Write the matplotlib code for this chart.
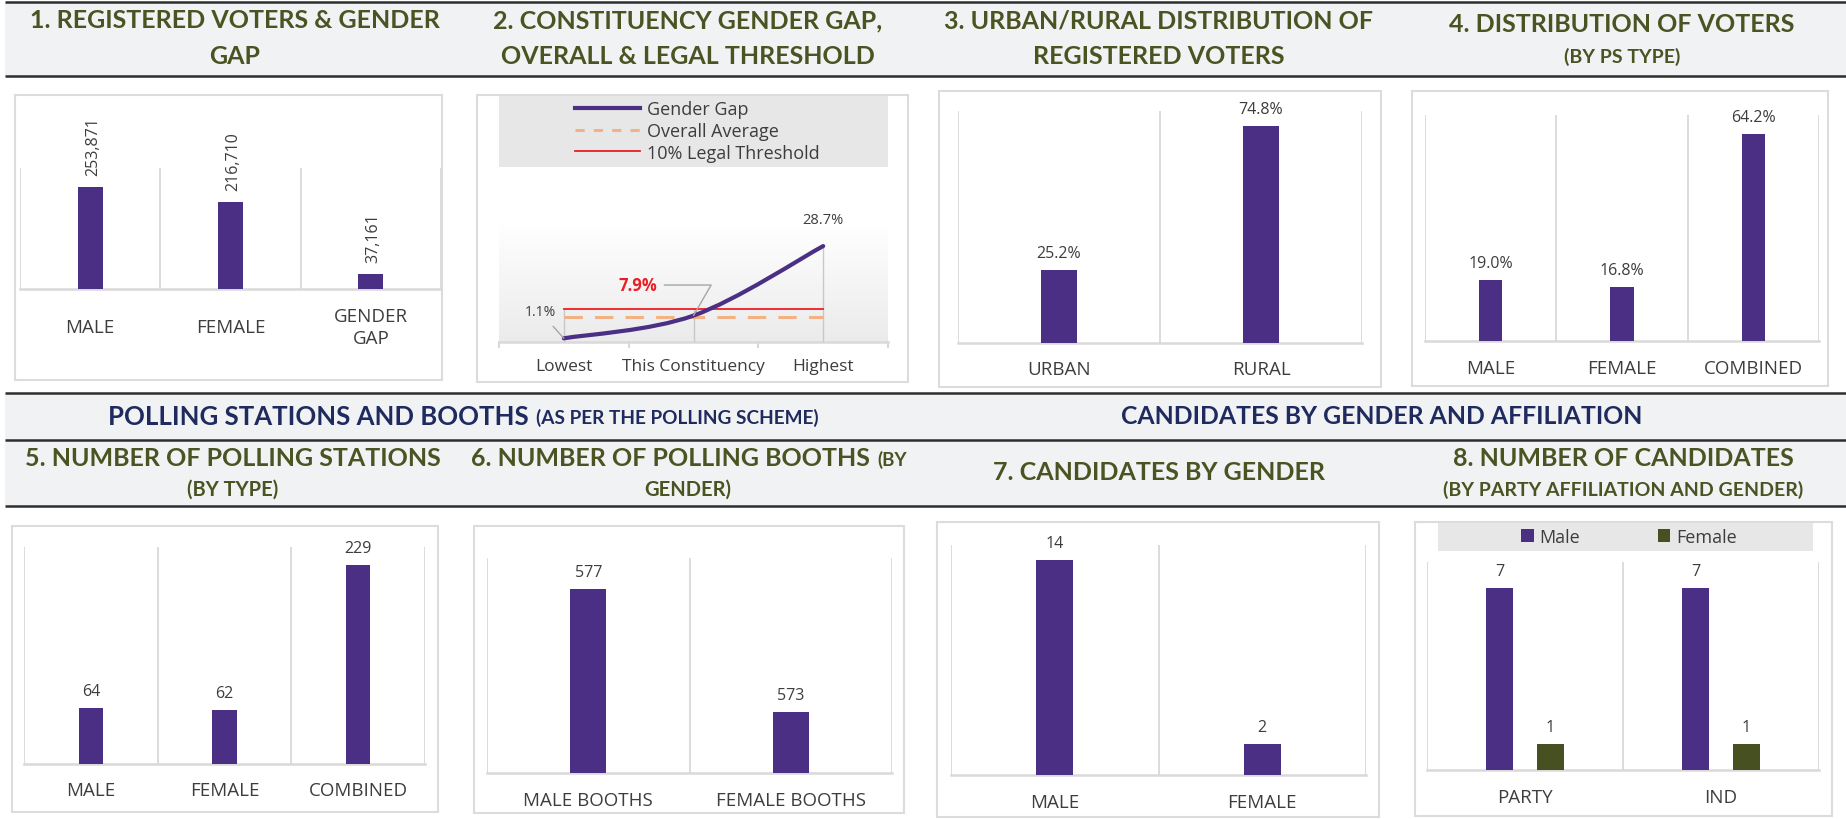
import matplotlib
matplotlib.use("Agg")
import matplotlib.pyplot as plt
import numpy as np
from matplotlib.path import Path
from matplotlib.patches import PathPatch, Rectangle
from matplotlib.lines import Line2D
from matplotlib.colors import LinearSegmentedColormap

# ---------------- data ----------------
p1_cats = ["MALE", "FEMALE", "GENDER\nGAP"]
p1_vals = [253871, 216710, 37161]

p2_cats = ["Lowest", "This Constituency", "Highest"]
p2_gap = [1.1, 7.9, 28.7]
p2_avg = [7.6, 7.6, 7.6]
p2_threshold = [10.0, 10.0, 10.0]
p2_legend = ["Gender Gap", "Overall Average", "10% Legal Threshold"]

p3_cats = ["URBAN", "RURAL"]
p3_vals = [25.2, 74.8]

p4_cats = ["MALE", "FEMALE", "COMBINED"]
p4_vals = [19.0, 16.8, 64.2]

p5_cats = ["MALE", "FEMALE", "COMBINED"]
p5_vals = [64, 62, 229]

p6_cats = ["MALE BOOTHS", "FEMALE BOOTHS"]
p6_vals = [577, 573]

p7_cats = ["MALE", "FEMALE"]
p7_vals = [14, 2]

p8_cats = ["PARTY", "IND"]
p8_male = [7, 7]
p8_female = [1, 1]
p8_series = ["Male", "Female"]

# ---------------- style ----------------
W, H, DPI = 1846, 820, 100
PURPLE = "#4a2f85"
OLIVE_BAR = "#475020"
TITLE_C = "#4b5322"
NAVY = "#1f2a5e"
BAND = "#f1f2f4"
LINE_DARK = "#2e2e2e"
GRID = "#d9d9d9"
TXT = "#3d3d3d"
TFONT = "Lato"
BFONT = "Open Sans"
TSIZE = 18
CSIZE = 13.5

fig = plt.figure(figsize=(W / DPI, H / DPI), dpi=DPI)
fig.patch.set_facecolor("white")

bg = fig.add_axes([0, 0, 1, 1], zorder=0)
bg.set_xlim(0, W)
bg.set_ylim(H, 0)
bg.axis("off")


def px_axes(x0, y0, x1, y1):
    ax = fig.add_axes([x0 / W, 1 - y1 / H, (x1 - x0) / W, (y1 - y0) / H], zorder=2)
    ax.patch.set_alpha(0)
    for s in ax.spines.values():
        s.set_visible(False)
    ax.set_xticks([])
    ax.set_yticks([])
    return ax


# ---------------- bands & rules ----------------
bg.add_patch(Rectangle((5, 3), W - 5, 74, facecolor=BAND, edgecolor="none"))
bg.add_patch(Rectangle((5, 394), W - 5, 113, facecolor=BAND, edgecolor="none"))
for y in [3, 77, 394, 441, 507]:
    bg.plot([5, W], [y, y], color=LINE_DARK, lw=1.8, solid_capstyle="butt")

# chart boxes
boxes = [(15, 96, 442, 381), (477, 96, 908, 383), (939, 92, 1381, 388), (1412, 92, 1828, 387),
         (12, 527, 438, 813), (474, 527, 904, 814), (937, 523, 1379, 818), (1415, 523, 1832, 817)]
for (x0, y0, x1, y1) in boxes:
    bg.add_patch(Rectangle((x0, y0), x1 - x0, y1 - y0, facecolor="white", edgecolor="#dcdcdc", lw=1.5))

# ---------------- titles ----------------
def title(x, y, s, size=TSIZE, color=TITLE_C):
    return bg.text(x, y, s, ha="center", va="center", fontsize=size, fontweight="bold",
                   color=color, family=TFONT)

title(235, 21, "1. REGISTERED VOTERS & GENDER")
title(235, 56, "GAP")
title(688, 21, "2. CONSTITUENCY GENDER GAP,")
title(688, 56, "OVERALL & LEGAL THRESHOLD")
title(1159, 21, "3. URBAN/RURAL DISTRIBUTION OF")
title(1159, 56, "REGISTERED VOTERS")
title(1622, 24, "4. DISTRIBUTION OF VOTERS")
title(1622, 57, "(BY PS TYPE)", size=14)

title(233, 459, "5. NUMBER OF POLLING STATIONS")
title(233, 490, "(BY TYPE)", size=14.5)
title(1159, 473, "7. CANDIDATES BY GENDER")
title(1623, 459, "8. NUMBER OF CANDIDATES")
title(1623, 490, "(BY PARTY AFFILIATION AND GENDER)", size=14)
title(688, 490, "GENDER)", size=14.5)
title(1382, 417, "CANDIDATES BY GENDER AND AFFILIATION", size=17.8, color=NAVY)

fig.canvas.draw()
renderer = fig.canvas.get_renderer()


def two_part(cx, y, big, small, bsize, ssize, color):
    t1 = bg.text(0, y, big, ha="left", va="center", fontsize=bsize, fontweight="bold",
                 color=color, family=TFONT)
    t2 = bg.text(0, y + 1, small, ha="left", va="center", fontsize=ssize, fontweight="bold",
                 color=color, family=TFONT)
    w1 = t1.get_window_extent(renderer).width
    w2 = t2.get_window_extent(renderer).width
    gap = 7
    start = cx - (w1 + gap + w2) / 2
    t1.set_x(start)
    t2.set_x(start + w1 + gap)


two_part(463, 417, "POLLING STATIONS AND BOOTHS", "(AS PER THE POLLING SCHEME)", 18.5, 13.7, NAVY)
two_part(689, 459, "6. NUMBER OF POLLING BOOTHS", "(BY", 18, 13.5, TITLE_C)


# ---------------- bar helper ----------------
def bar_panel(plot, cats, vals, ylim, labels, cat_y, rot=False, gap_px=8, width=0.18):
    x0, y0, x1, y1 = plot
    ax = px_axes(x0, y0, x1, y1)
    n = len(cats)
    xs = np.arange(n)
    ax.set_xlim(-0.5, n - 0.5)
    ax.set_ylim(*ylim)
    for b in np.arange(-0.5, n, 1.0):
        ax.axvline(b, color=GRID, lw=1.3, zorder=1)
    ax.axhline(ylim[0], color=GRID, lw=1.8, zorder=1, clip_on=False)
    ax.bar(xs, vals, width=width, color=PURPLE, zorder=3)
    gap_pt = gap_px * 72 / DPI
    for i, (v, lab) in enumerate(zip(vals, labels)):
        if rot:
            ax.annotate(lab, (i, v), xytext=(2, gap_pt), textcoords="offset points", rotation=90,
                        ha="center", va="bottom", fontsize=11.5, color=TXT, family=BFONT)
        else:
            ax.annotate(lab, (i, v), xytext=(0, gap_pt), textcoords="offset points",
                        ha="center", va="bottom", fontsize=11.5, color=TXT, family=BFONT)
    yfrac = -(cat_y - y1) / (y1 - y0)
    for i, c in enumerate(cats):
        ax.text(i, yfrac, c, transform=ax.get_xaxis_transform(), ha="center", va="center",
                fontsize=CSIZE, color=TXT, family=BFONT, linespacing=1.3)
    return ax


# Panel 1
bar_panel((20, 169, 441, 290), p1_cats, p1_vals, (0, 301000),
          [f"{v:,}" for v in p1_vals], 328, rot=True, gap_px=12)
# Panel 3
bar_panel((958, 112, 1362, 344), p3_cats, p3_vals, (0, 80),
          [f"{v:.1f}%" for v in p3_vals], 370, gap_px=9)
# Panel 4
bar_panel((1425, 116, 1819, 342), p4_cats, p4_vals, (0, 70),
          [f"{v:.1f}%" for v in p4_vals], 369, gap_px=9)
# Panel 5
bar_panel((24, 548, 425, 765), p5_cats, p5_vals, (0, 250),
          [str(v) for v in p5_vals], 791, gap_px=9)
# Panel 6
bar_panel((487, 559, 892, 774), p6_cats, p6_vals, (571, 578),
          [str(v) for v in p6_vals], 801, gap_px=9)
# Panel 7
bar_panel((951, 546, 1366, 776), p7_cats, p7_vals, (0, 15),
          [str(v) for v in p7_vals], 803, gap_px=9)

# Panel 8 (grouped)
ax8 = px_axes(1427, 563, 1819, 771)
n8 = len(p8_cats)
x8 = np.arange(n8)
ax8.set_xlim(-0.5, n8 - 0.5)
ax8.set_ylim(0, 8)
for b in np.arange(-0.5, n8, 1.0):
    ax8.axvline(b, color=GRID, lw=1.3, zorder=1)
ax8.axhline(0, color=GRID, lw=1.8, zorder=1, clip_on=False)
off = 0.128
bw = 0.138
bm = ax8.bar(x8 - off, p8_male, width=bw, color=PURPLE, zorder=3, label=p8_series[0])
bf = ax8.bar(x8 + off, p8_female, width=bw, color=OLIVE_BAR, zorder=3, label=p8_series[1])
for i in range(n8):
    ax8.annotate(str(p8_male[i]), (x8[i] - off, p8_male[i]), xytext=(0, 9 * 0.72),
                 textcoords="offset points", ha="center", va="bottom", fontsize=11.5,
                 color=TXT, family=BFONT)
    ax8.annotate(str(p8_female[i]), (x8[i] + off, p8_female[i]), xytext=(0, 9 * 0.72),
                 textcoords="offset points", ha="center", va="bottom", fontsize=11.5,
                 color=TXT, family=BFONT)
yfrac8 = -(798 - 771) / (771 - 563)
for i, c in enumerate(p8_cats):
    ax8.text(i, yfrac8, c, transform=ax8.get_xaxis_transform(), ha="center", va="center",
             fontsize=CSIZE, color=TXT, family=BFONT)
bg.add_patch(Rectangle((1438, 524), 1813 - 1438, 28, facecolor="#e7e7e8", edgecolor="none"))
leg8 = fig.legend(handles=[bm, bf], labels=p8_series, loc="center",
                  bbox_to_anchor=(1629 / W, 1 - 538 / H), ncol=2, frameon=False,
                  handlelength=0.7, handleheight=0.7, handletextpad=0.3,
                  columnspacing=4.3, prop={"family": BFONT, "size": 13})
for t in leg8.get_texts():
    t.set_color(TXT)

# ---------------- Panel 2 line chart ----------------
ax2 = px_axes(499, 225, 888, 343)
ax2.set_xlim(-0.5, 2.5)
top2 = 35.3
ax2.set_ylim(0, top2)
cmap = LinearSegmentedColormap.from_list("g", ["#ffffff", "#ebebec"])
ax2.imshow(np.linspace(0, 1, 200).reshape(-1, 1)[::-1], cmap=cmap, aspect="auto",
           extent=(-0.5, 2.5, 0, top2), origin="lower", zorder=0)
ax2.axhline(0, color=GRID, lw=1.8, zorder=1, clip_on=False)
for b in np.arange(-0.5, 3, 1.0):
    ax2.plot([b, b], [0, -1.5], color=GRID, lw=1.5, clip_on=False, zorder=1)
x2 = np.arange(3)
# drop lines from highest series value
for i in range(3):
    hi = max(p2_gap[i], p2_avg[i], p2_threshold[i])
    ax2.plot([x2[i], x2[i]], [0, hi], color="#c8c8c8", lw=1.0, zorder=1)
ax2.plot(x2, p2_threshold, color="#ee1c25", lw=1.3, zorder=2)
ax2.plot(x2, p2_avg, color="#f4b183", lw=2.2, dashes=(6, 4), zorder=2)

# smooth (Catmull-Rom -> Bezier) curve through the gap points
pts = np.column_stack([x2, p2_gap]).astype(float)
verts = [tuple(pts[0])]
codes = [Path.MOVETO]
for i in range(len(pts) - 1):
    p_prev = pts[i - 1] if i > 0 else pts[i]
    p_next2 = pts[i + 2] if i + 2 < len(pts) else pts[i + 1]
    c1 = pts[i] + (pts[i + 1] - p_prev) / 6
    c2 = pts[i + 1] - (p_next2 - pts[i]) / 6
    verts += [tuple(c1), tuple(c2), tuple(pts[i + 1])]
    codes += [Path.CURVE4] * 3
ax2.add_patch(PathPatch(Path(verts, codes), facecolor="none", edgecolor=PURPLE, lw=3,
                        capstyle="round", zorder=3))

yfrac2 = -(367 - 343) / (343 - 225)
for i, c in enumerate(p2_cats):
    ax2.text(i, yfrac2, c, transform=ax2.get_xaxis_transform(), ha="center", va="center",
             fontsize=12.5, color=TXT, family=BFONT)

ax2.annotate(f"{p2_gap[0]:.1f}%", (x2[0], p2_gap[0]), xytext=(-17, 19), textcoords="offset points",
             ha="center", va="center", fontsize=10, color=TXT, family=BFONT,
             arrowprops=dict(arrowstyle="-", color="#a6a6a6", lw=1, shrinkA=4, shrinkB=0))
ax2.annotate(f"{p2_gap[1]:.1f}%", (x2[1], p2_gap[1]), xytext=(-40, 22), textcoords="offset points",
             ha="center", va="center", fontsize=12, fontweight="bold", color="#ee1c25",
             family=BFONT,
             arrowprops=dict(arrowstyle="-", color="#a6a6a6", lw=1, shrinkA=3, shrinkB=0,
                             relpos=(1, 0.5), connectionstyle="angle,angleA=0,angleB=60,rad=0"))
ax2.annotate(f"{p2_gap[2]:.1f}%", (x2[2], p2_gap[2]), xytext=(0, 19), textcoords="offset points",
             ha="center", va="center", fontsize=10.5, color=TXT, family=BFONT)

# legend for panel 2
bg.add_patch(Rectangle((499, 97), 888 - 499, 71, facecolor="#e7e7e8", edgecolor="none"))
h2 = [Line2D([], [], color=PURPLE, lw=3),
      Line2D([], [], color="#f4b183", lw=2.2, dashes=(3, 3)),
      Line2D([], [], color="#ee1c25", lw=1.3)]
leg2 = fig.legend(handles=h2, labels=p2_legend, loc="center",
                  bbox_to_anchor=(697 / W, 1 - 132 / H), frameon=False,
                  handlelength=3.6, handletextpad=0.4, labelspacing=0.2,
                  prop={"family": BFONT, "size": 13})
for t in leg2.get_texts():
    t.set_color(TXT)

fig.savefig("out.png", dpi=DPI, facecolor="white")
